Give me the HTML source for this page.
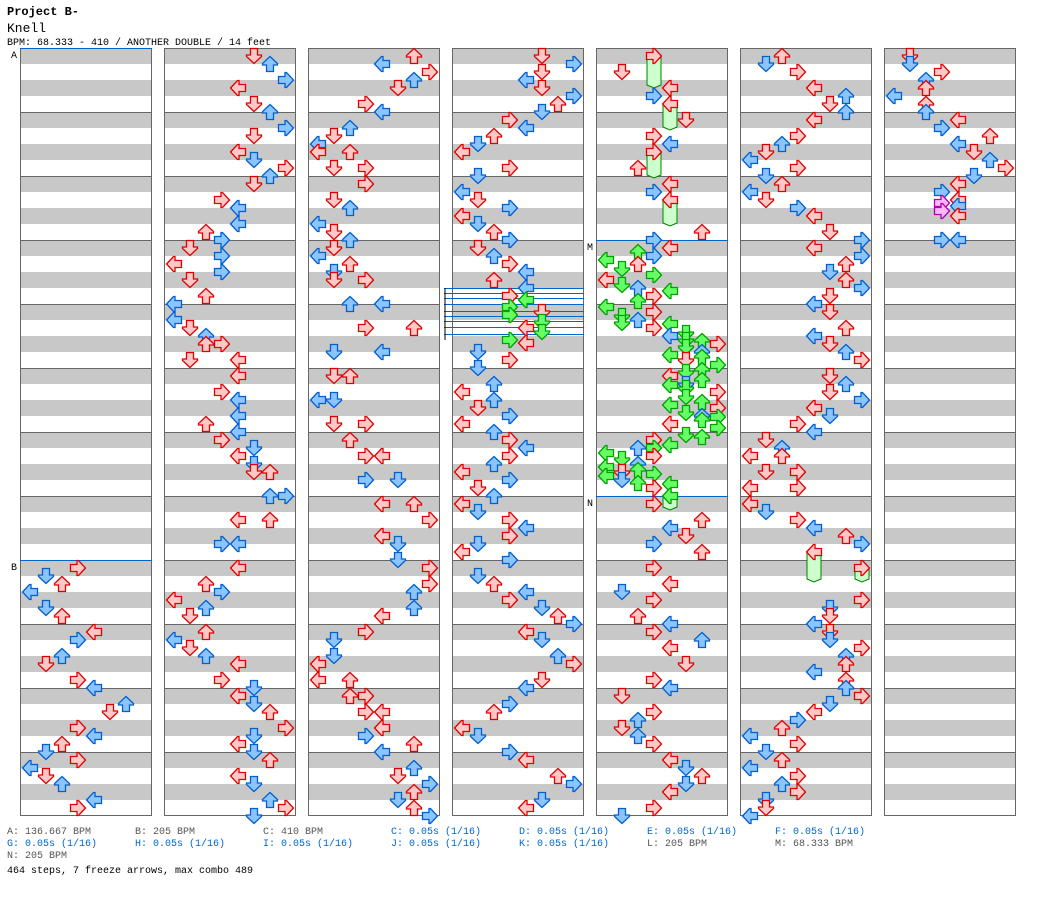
<!DOCTYPE html>
<html><head><meta charset="utf-8">
<style>
html,body{margin:0;padding:0;background:#fff;width:1040px;height:900px;overflow:hidden}
svg{position:absolute;left:0;top:0}
</style></head>
<body>
<svg id="s" width="1040" height="900" xmlns="http://www.w3.org/2000/svg">
<g font-family="Liberation Mono, monospace">
<text x="7" y="15" font-size="12" font-weight="bold" fill="#000">Project B-</text>
<text x="7" y="32" font-size="13" fill="#000">Knell</text>
<text x="7" y="45" font-size="10" fill="#000">BPM: 68.333 - 410 / ANOTHER DOUBLE / 14 feet</text>
<g font-size="10">
<text x="7" y="834" fill="#555">A: 136.667 BPM</text>
<text x="135" y="834" fill="#555">B: 205 BPM</text>
<text x="263" y="834" fill="#555">C: 410 BPM</text>
<text x="391" y="834" fill="#0066cc">C: 0.05s (1/16)</text>
<text x="519" y="834" fill="#0066cc">D: 0.05s (1/16)</text>
<text x="647" y="834" fill="#0066cc">E: 0.05s (1/16)</text>
<text x="775" y="834" fill="#0066cc">F: 0.05s (1/16)</text>
<text x="7" y="846" fill="#0066cc">G: 0.05s (1/16)</text>
<text x="135" y="846" fill="#0066cc">H: 0.05s (1/16)</text>
<text x="263" y="846" fill="#0066cc">I: 0.05s (1/16)</text>
<text x="391" y="846" fill="#0066cc">J: 0.05s (1/16)</text>
<text x="519" y="846" fill="#0066cc">K: 0.05s (1/16)</text>
<text x="647" y="846" fill="#555">L: 205 BPM</text>
<text x="775" y="846" fill="#555">M: 68.333 BPM</text>
<text x="7" y="858" fill="#555">N: 205 BPM</text>
<text x="7" y="873" fill="#000">464 steps, 7 freeze arrows, max combo 489</text>
<text x="11" y="58" fill="#000">A</text>
<text x="11" y="570" fill="#000">B</text>
<text x="587" y="250" fill="#000">M</text>
<text x="587" y="506" fill="#000">N</text>
</g>
</g>
<g id="bg"></g>
<g id="ar"></g>
</svg>
<script>
var NS="http://www.w3.org/2000/svg";
var bg=document.getElementById('bg'),ar=document.getElementById('ar');
function el(p,t,a){var e=document.createElementNS(NS,t);for(var k in a)e.setAttribute(k,a[k]);p.appendChild(e);return e;}
var cols=[20,164,308,452,596,740,884];
cols.forEach(function(x){
  el(bg,'rect',{x:x,y:48,width:132,height:768,fill:'#fff'});
  for(var y=48;y<816;y+=32) el(bg,'rect',{x:x,y:y,width:132,height:16,fill:'#c8c8c8'});
  for(var y=112;y<816;y+=64) el(bg,'line',{x1:x,y1:y+.5,x2:x+132,y2:y+.5,stroke:'#666'});
  el(bg,'rect',{x:x+.5,y:48.5,width:131,height:767,fill:'none',stroke:'#666'});
});
[[20,48],[20,560],[596,240],[596,496]].forEach(function(p){el(bg,'line',{x1:p[0],y1:p[1]+.5,x2:p[0]+132,y2:p[1]+.5,stroke:'#0066cc'});});
[288,293,298,304,311,316,321,327,334].forEach(function(y){el(bg,'line',{x1:444,y1:y+.5,x2:584,y2:y+.5,stroke:'#0066cc'});});
el(bg,'line',{x1:445,y1:288,x2:445,y2:340,stroke:'#000'});
var UP="M8,0.5 L15.5,7.5 L15.5,9 L11.5,9 L11.5,15.5 L4.5,15.5 L4.5,9 L0.5,9 L0.5,7.5 Z";
var rot={L:-90,D:180,U:0,R:90};
var dirs=['L','D','U','R','L','D','U','R'];
var C={r:['#ffc8c8','#e00000'],b:['#8cc4ff','#0060d0'],g:['#66ff66','#00a000'],p:['#ffb8ff','#b000b0']};
function arrow(cx,lane,y,c){
  var x=cx+2+16*lane;
  if(!c){c=((y-48)%16==0)?'r':'b';}
  var g=el(ar,'g',{transform:'translate('+x+','+y+') rotate('+rot[dirs[lane]]+',8,8)'});
  el(g,'path',{d:UP,fill:C[c][0],stroke:C[c][1],'stroke-width':1.3,'stroke-linejoin':'miter'});
}
function freeze(cx,lane,y1,y2){
  var x=cx+2+16*lane;
  el(ar,'path',{d:'M'+(x+1)+','+(y1+8)+' L'+(x+15)+','+(y1+8)+' L'+(x+15)+','+(y2-3)+' L'+(x+8)+','+y2+' L'+(x+1)+','+(y2-3)+' Z',fill:'#ccffcc',stroke:'#008000'});
}
freeze(596,3,48,88);freeze(596,4,96,130);freeze(596,3,144,178);freeze(596,4,192,226);freeze(596,4,488,510);
freeze(740,4,544,582);freeze(740,7,560,582);
var D=[
"3:560 1:568 2:576 0:584 1:600 2:608 4:624 3:632 2:648 1:656 3:672 4:680 6:696 5:704 3:720 4:728 2:736 1:744 3:752 0:760 1:768 2:776 4:792 3:800",
"5:48 6:56 7:72 4:80 5:96 6:104 7:120 5:128 4:144 5:152 7:160 6:168 5:176 3:192 4:200 4:216 2:224 3:232 1:240 3:248 0:256 3:264 1:272 2:288 0:296 0:312 1:320 2:328 2:336 3:336 1:352 4:352 4:368 3:384 4:392 4:408 2:416 4:424 3:432 5:440 4:448 5:456 5:464 6:464 6:488 7:488 4:512 6:512 3:536 4:536 4:560 2:576 3:584 0:592 2:600 1:608 2:624 0:632 1:640 2:648 4:656 3:672 5:680 4:688 5:696 6:704 7:720 5:728 4:736 5:744 6:752 4:768 5:776 6:792 7:800 5:808",
"6:48 4:56 7:64 6:72 5:80 3:96 4:104 2:120 1:128 0:136 0:144 2:144 1:160 3:160 3:176 1:192 2:200 0:216 1:224 2:232 1:240 0:248 2:256 1:264 1:272 3:272 2:296:b 4:296:b 3:320 6:320 1:344:b 4:344:b 1:368 2:368 0:392:b 1:392:b 1:416 3:416 2:432 3:448 4:448 3:472:b 5:472:b 4:496 6:496 7:512 4:528 5:536 5:552 7:560 7:576 6:584 6:600 4:608 3:624 1:632 1:648 0:656 0:672 2:672 2:688 3:688 3:704 4:704 4:720 3:728 6:736 4:744 6:760 5:768 7:776 6:784 5:792 6:800 7:808",
"5:48 7:56 5:64 4:72 5:80 7:88 6:96 5:104 3:112 4:120 2:128 1:136 0:144 3:160 1:168 0:184 1:192 3:200 0:208 1:216 2:224 3:232 1:240 2:248 3:256 4:264 2:272 4:280 3:288 4:292:g 3:299:g 5:304 3:307:g 5:314:g 4:320 5:324:g 3:332:g 4:335:r 1:344 3:352 1:360 2:376 0:384 2:392 1:400 3:408 0:416 2:424 3:432 4:440 3:448 2:456 0:464 3:472 1:480 2:488 0:496 1:504 3:512 4:520 3:528 1:536 0:544 3:552 1:568 2:576 4:584 3:592 5:600 6:608 7:616 4:624 5:632 6:648 7:656 5:672 4:680 3:696 2:704 0:720 1:728 3:744 4:752 6:768 7:776 5:792 4:800",
"3:48 1:64 4:80 3:88 4:96 5:112 3:128 4:136 3:144 2:160 4:176 3:184 4:192 6:224 3:232 4:240 2:244:g 3:248 0:252:g 2:256 1:261:g 3:267:g 0:272 1:277:g 2:280 4:283:g 3:288 2:293:g 0:299:g 3:304 1:308:g 2:312 1:315:g 4:316:g 3:320 5:325:g 4:328 5:332:g 6:333:g 7:336 5:339:g 6:344:b 4:347:g 6:349:g 5:352 7:357:g 6:362:g 5:364:g 4:368 6:372:g 5:376 4:377:g 5:380:g 7:384 5:389:g 6:394:g 4:397:g 7:400 5:405:g 6:408 7:409:g 6:412:g 4:416 7:420:g 5:427:g 6:429:g 3:432 4:437:g 2:440 3:440:g 0:445:g 3:448 1:451:g 2:456 0:459:g 1:464 2:462:g 3:466:g 0:468:g 1:472 2:475:g 4:476:g 3:480 4:488:g 3:496 6:512 4:520 5:528 3:536 6:544 3:560 4:576 1:584 3:592 2:608 4:616 3:624 6:632 4:640 5:656 3:672 4:680 1:688 3:704 2:712 1:720 2:728 3:736 4:752 5:760 6:768 5:776 4:784 3:800 1:808",
"2:48 1:56 3:64 4:80 6:88 5:96 6:104 4:112 3:128 2:136 1:144 0:152 3:160 1:168 2:176 0:184 1:192 3:200 4:208 5:224 7:232 4:240 7:248 6:256 5:264 6:272 7:280 5:288 4:296 5:304 6:320 4:328 5:336 6:344 7:352 5:368 6:376 5:384 7:392 4:400 5:408 3:416 4:424 1:432 2:440 0:448 2:448 1:464 3:464 0:480 3:480 0:496 1:504 3:512 4:520 6:528 7:536 4:544 7:560 7:592 5:600 5:608 4:616 5:624 5:632 7:640 6:648 6:656 4:664 6:672 6:680 7:688 5:696 4:704 3:712 2:720 0:728 3:736 1:744 2:752 0:760 3:768 2:776 3:784 1:792 1:800 0:808",
"1:48 1:56 3:64 2:72 2:80 0:88 2:96 2:104 4:112 3:120 6:128 4:136 5:144 6:152 7:160 5:168 4:176 3:184 4:192 3:195:p 4:198:b 3:203:p 4:208 3:232 4:232"
];
D.forEach(function(s,i){
  s.split(' ').forEach(function(t){var p=t.split(':');arrow(cols[i],+p[0],+p[1],p[2]);});
});
</script>
</body></html>
